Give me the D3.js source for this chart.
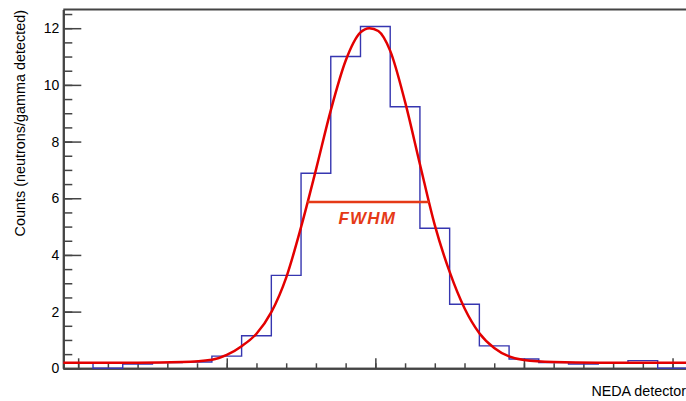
<!DOCTYPE html>
<html>
<head>
<meta charset="utf-8">
<script src="https://cdn.jsdelivr.net/npm/d3@7"></script>
<style>
    body { margin: 0; background: #fff; }
    svg { display: block; font-family: "Liberation Sans", Arial, Helvetica, sans-serif; }
</style>
</head>
<body>
<div id="HistDiv"></div>
<script>
// detector index of each bin (bins are centred on the index)
var detectors = d3.range(0, 21);
// counts per bin
var counts = [0.2, 0, 0.15, 0.2, 0.22, 0.43, 1.15, 3.28, 6.88, 11.0, 12.06,
              9.23, 4.94, 2.26, 0.79, 0.33, 0.2, 0.15, 0.2, 0.27, 0];
// points along the red fit curve: x (detector) and y (counts)
var fitX = [-0.5, 2, 3.5, 4.5, 5, 5.5, 6, 6.5, 7, 7.5, 8, 8.5, 9, 9.5, 9.8,
            10.1, 10.5, 11, 11.5, 12, 12.5, 13, 13.5, 14, 14.5, 15, 16, 17.5, 20.5];
var fitY = [0.2, 0.2, 0.22, 0.3, 0.47, 0.78, 1.22, 1.98, 3.2, 4.98, 7.0, 9.1, 10.85, 11.85, 12.0,
            11.9, 11.2, 9.4, 7.2, 5.05, 3.4, 2.12, 1.24, 0.72, 0.42, 0.29, 0.22, 0.2, 0.2];
// FWHM marker: from, to, level
var fwhm = [7.71, 11.81, 5.87];
var yTicks = [0, 2, 4, 6, 8, 10, 12];
var xTicks = [0, 5, 10, 15, 20];

function drawHist() {

    var margin = {
        top: 9.5,
        left: 63.3,
        bottom: 32.7
    }

    var width = 624.1;
    var height = 401 - margin.top - margin.bottom;

    var x_scale = d3.scaleLinear()
        .domain([-0.5, 20.5])
        .range([0, width]);

    var y_scale = d3.scaleLinear()
        .domain([0, 12.66])
        .range([height, 0]);

    var svg = d3.select('#HistDiv').append('svg')
        .attr('width', 686)
        .attr('height', 401);

    var g = svg.append("g")
        .attr("transform", "translate(" + margin.left + "," + margin.top + ")");

    // minor ticks first, majors over them
    g.append("g")
        .attr("class", "axis")
        .call(d3.axisLeft(y_scale)
            .tickValues(d3.range(0, 12.6, 0.5))
            .tickSize(-9).tickSizeOuter(0).tickFormat(""));

    g.append("g")
        .attr("class", "axis")
        .call(d3.axisLeft(y_scale)
            .tickValues(yTicks)
            .tickSize(-18).tickSizeOuter(0).tickPadding(4));

    g.append("g")
        .attr("class", "axis")
        .attr("transform", "translate(0," + height + ")")
        .call(d3.axisBottom(x_scale)
            .tickValues(detectors)
            .tickSize(-5).tickSizeOuter(0).tickFormat(""));

    g.append("g")
        .attr("class", "axis")
        .attr("transform", "translate(0," + height + ")")
        .call(d3.axisBottom(x_scale)
            .tickValues(xTicks)
            .tickSize(-10).tickSizeOuter(0).tickFormat(""));

    // top frame
    g.append("line")
        .attr("x1", 0).attr("x2", width)
        .attr("y1", 0).attr("y2", 0)
        .style("stroke", "#444")
        .style("stroke-width", 2);

    g.selectAll(".axis path, .axis line")
        .style("stroke", "#444")
        .style("stroke-width", 1.5);
    g.selectAll(".axis .domain")
        .style("stroke-width", 2);
    g.selectAll(".axis text")
        .style("font-size", "14px")
        .style("fill", "#000")
        .style("font-family", "'Liberation Sans', Arial, sans-serif");

    // histogram outline as steps
    var steps = [];
    counts.forEach(function(c, i) {
        steps.push([detectors[i] - 0.5, c]);
        steps.push([detectors[i] + 0.5, c]);
    });

    var line = d3.line()
        .x(function(d) { return x_scale(d[0]); })
        .y(function(d) { return y_scale(d[1]); });

    g.append("path")
        .datum(steps)
        .attr("d", line)
        .style("fill", "none")
        .style("stroke", "#3636b0")
        .style("stroke-width", 1.4);

    // fit curve
    var fitLine = d3.line()
        .x(function(d, i) { return x_scale(fitX[i]); })
        .y(function(d) { return y_scale(d); })
        .curve(d3.curveMonotoneX);

    g.append("path")
        .datum(fitY)
        .attr("d", fitLine)
        .style("fill", "none")
        .style("stroke", "#e30000")
        .style("stroke-width", 2.5);

    // FWHM marker
    g.append("line")
        .attr("x1", x_scale(fwhm[0]))
        .attr("x2", x_scale(fwhm[1]))
        .attr("y1", y_scale(fwhm[2]))
        .attr("y2", y_scale(fwhm[2]))
        .style("stroke", "#e53a17")
        .style("stroke-width", 2.5);

    g.append("text")
        .attr("x", x_scale((fwhm[0] + fwhm[1]) / 2) - 1)
        .attr("y", y_scale(fwhm[2]) + 22)
        .attr("text-anchor", "middle")
        .style("fill", "#e53a17")
        .style("font-size", "17px")
        .style("letter-spacing", "1.2px")
        .style("font-weight", "bold")
        .style("font-style", "italic")
        .text("FWHM");

    // axis titles
    svg.append("text")
        .attr("text-anchor", "end")
        .attr("transform", "translate(25," + 10 + ")rotate(-90)")
        .style("font-size", "14.4px")
        .text("Counts (neutrons/gamma detected)");

    svg.append("text")
        .attr("text-anchor", "end")
        .attr("x", 686)
        .attr("y", 396)
        .style("font-size", "14.3px")
        .text("NEDA detector");
};

drawHist();
</script>
</body>
</html>
